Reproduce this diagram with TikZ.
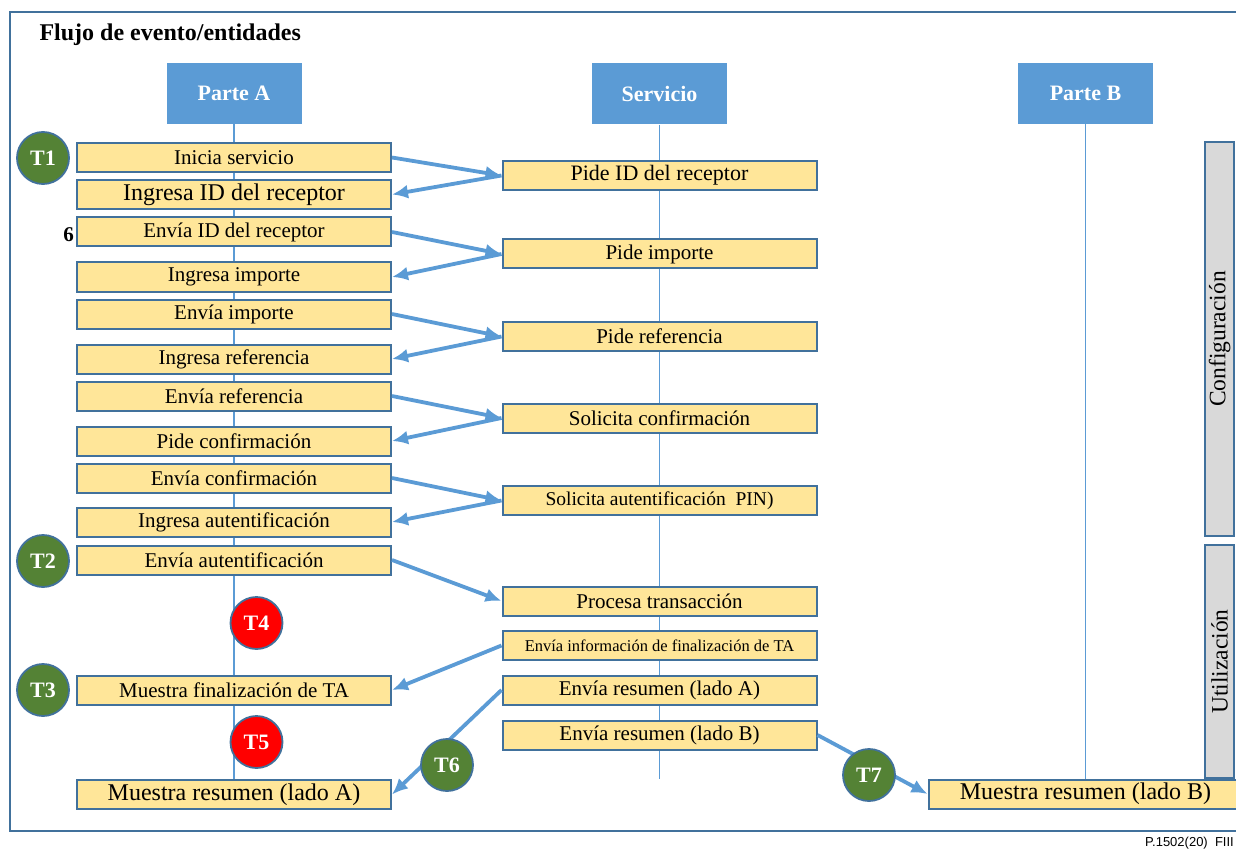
\documentclass[tikz,border=0pt]{standalone}
\usepackage{fontspec}
\setmainfont{Liberation Serif}
\setsansfont{Liberation Sans}
\usepackage{tikz}
\usetikzlibrary{arrows.meta,positioning,backgrounds}
\definecolor{flHeader}{HTML}{5B9BD5}
\definecolor{flEdge}{HTML}{41719C}
\definecolor{flStepFill}{HTML}{FFE699}
\definecolor{flGreen}{HTML}{548235}
\definecolor{flRed}{HTML}{FF0000}
\definecolor{flPhase}{HTML}{D9D9D9}
\newcommand{\flSize}[1]{\fontsize{#1}{#1}\selectfont}
\tikzset{
    flHeaderBox/.style={
        rectangle,
        fill=flHeader,
        text=white,
        minimum width=135pt,
        minimum height=61pt,
        font=\flSize{22}\bfseries
    },
    flStepBox/.style={
        rectangle,
        draw=flEdge,
        line width=2pt,
        fill=flStepFill,
        minimum width=314pt,
        minimum height=29pt,
        inner sep=0pt,
        font=\flSize{21}
    },
    % Text variants
    flLarge/.style={font=\flSize{24}},
    flSmall/.style={font=\flSize{16.5}},
    % Time marks
    flMark/.style={
        circle,
        draw=flEdge,
        line width=1.8pt,
        minimum size=52pt,
        inner sep=0pt,
        text=white,
        font=\flSize{22}\bfseries
    },
    flOk/.style={flMark, fill=flGreen},
    flAlert/.style={flMark, fill=flRed},
    flPhaseBox/.style={
        rectangle,
        draw=flEdge,
        line width=2pt,
        fill=flPhase,
        minimum height=29pt,
        inner sep=0pt,
        rotate=90,
        font=\flSize{23.5}
    },
    % Lines
    flLife/.style={draw=flHeader, line width=1.8pt},
    flArrow/.style={-{Latex[length=16pt,width=14pt]}, draw=flHeader, line width=3.8pt}
}

\begin{document}
\begin{tikzpicture}[x=1pt, y=-1pt]
\useasboundingbox (0,0) rectangle (1236,850);
\draw[flEdge, line width=1.8pt] (1240,12) -- (10,12) -- (10,831) -- (1240,831);
\node[anchor=west, font=\flSize{24}\bfseries] (title) at (36,35) {Flujo de evento/entidades};

% Entities
\node[flHeaderBox] (pa) at (234,93.5) {Parte A};
\node[flHeaderBox] (srv) at (659.5,94) {Servicio};
\node[flHeaderBox] (pb) at (1085.5,93.5) {Parte B};

% Parte A
\node[flStepBox] (a1) at (234,157.5) {Inicia servicio};
\node[flStepBox, flLarge] (a2) at (234,194.5) {Ingresa ID del receptor};
\node[flStepBox] (a3) at (234,232) {Envía ID del receptor};
\node[flStepBox] (a4) at (234,277) {Ingresa importe};
\node[flStepBox] (a5) at (234,314) {Envía importe};
\node[flStepBox] (a6) at (234,359) {Ingresa referencia};
\node[flStepBox] (a7) at (234,396) {Envía referencia};
\node[flStepBox] (a8) at (234,441) {Pide confirmación};
\node[flStepBox] (a9) at (234,478) {Envía confirmación};
\node[flStepBox] (a10) at (234,522) {Ingresa autentificación};
\node[flStepBox] (a11) at (234,560) {Envía autentificación};
\node[flStepBox] (a12) at (234,690) {Muestra finalización de TA};
\node[flStepBox, flLarge] (a13) at (234,794.5) {Muestra resumen (lado A)};
\node[anchor=east, inner sep=2pt, font=\flSize{21}\bfseries] (six) at ([yshift=-3pt]a3.west) {6};

% Servicio
\node[flStepBox, font=\flSize{22}] (s1) at (659.5,175.5) {Pide ID del receptor};
\node[flStepBox] (s2) at (659.5,254) {Pide importe};
\node[flStepBox] (s3) at (659.5,336.5) {Pide referencia};
\node[flStepBox] (s4) at (659.5,418) {Solicita confirmación};
\node[flStepBox, font=\flSize{19.5}] (s5) at (659.5,500.5) {Solicita autentificación\ \ PIN)};
\node[flStepBox] (s6) at (659.5,601) {Procesa transacción};
\node[flStepBox, flSmall] (s7) at (659.5,645.5) {Envía información de finalización de TA};
\node[flStepBox] (s8) at (659.5,690) {Envía resumen (lado A)};
\node[flStepBox] (s9) at (659.5,735) {Envía resumen (lado B)};

% Parte B
\node[flStepBox, flLarge] (b1) at (1085.5,794) {Muestra resumen (lado B)};

% Phases
\node[flPhaseBox, minimum width=394pt] (conf) at (1219.5,339) {Configuración};
\node[flPhaseBox, minimum width=233pt] (util) at (1219.5,661.5) {Utilización};

\begin{scope}[on background layer]
\draw[flLife] (pa.south) -- (pa.south |- a13.north);
\draw[flLife] (srv.south) -- (srv.south |- b1.north);
\draw[flLife] (pb.south) -- (pb.south |- b1.north);
\end{scope}

% Messages
\foreach \i/\j/\k in {a1/s1/a2, a3/s2/a4, a5/s3/a6, a7/s4/a8, a9/s5/a10} {
    \draw[flArrow] (\i.east) -- (\j.west);
    \draw[flArrow] (\j.west) -- (\k.east);
}
\draw[flArrow] (a11.east) -- (s6.west);
\draw[flArrow] (s7.west) -- (a12.east);
\draw[flArrow] (s8.west) -- (a13.east);
\draw[flArrow] (s9.east) -- (b1.west);

% Time marks
\node[flOk] (t1) at (43,158) {T1};
\node[flOk] (t2) at (43,561) {T2};
\node[flOk] (t3) at (43,690) {T3};
\node[flAlert] (t4) at (256.5,623) {T4};
\node[flAlert] (t5) at (256.5,742) {T5};
\node[flOk] (t6) at (447,765) {T6};
\node[flOk] (t7) at (869,775) {T7};

\node[anchor=south east, inner sep=0pt, font=\sffamily\flSize{13}] (fig) at (1234,849) {P.1502(20)\ \ FIII};
\end{tikzpicture}
\end{document}
